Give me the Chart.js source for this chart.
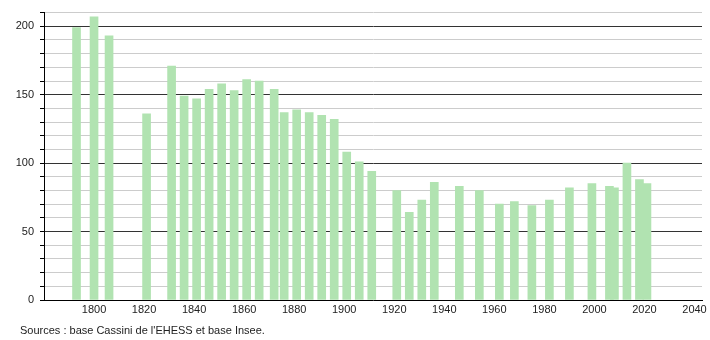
<!DOCTYPE html>
<html>
<head>
<meta charset="utf-8">
<script src="https://cdn.jsdelivr.net/npm/chart.js@4/dist/chart.umd.min.js"></script>
<style>
  body { margin: 0; background: #fff; }
  #wrap { position: relative; width: 710px; height: 340px; }
  #source {
    position: absolute; left: 20px; top: 324px;
    font: 11px "Liberation Sans", Arial, sans-serif; color: #222;
  }
</style>
</head>
<body>
<div id="wrap">
  <canvas id="chart" width="710" height="340"></canvas>
  <div id="source">Sources : base Cassini de l'EHESS et base Insee.</div>
</div>
<script>
// années de recensement et population
const annees = [1793, 1800, 1806, 1821, 1831, 1836, 1841, 1846, 1851, 1856, 1861, 1866, 1872, 1876,
    1881, 1886, 1891, 1896, 1901, 1906, 1911, 1921, 1926, 1931, 1936, 1946, 1954, 1962, 1968, 1975,
    1982, 1990, 1999, 2006, 2008, 2013, 2018, 2021];
const population = [199, 207, 193, 136, 171, 149, 147, 154, 158, 153, 161, 160, 154, 137,
    139, 137, 135, 132, 108, 101, 94, 80, 64, 73, 86, 83, 80, 70, 72, 69,
    73, 82, 85, 83, 82, 100, 88, 85];
const ticksY = [0, 50, 100, 150, 200];
const ticksX = [1800, 1820, 1840, 1860, 1880, 1900, 1920, 1940, 1960, 1980, 2000, 2020, 2040];

const police = { family: '"Liberation Sans", Arial, sans-serif', size: 11 };

new Chart(document.getElementById('chart'), {
    type: 'bar',
    data: {
        datasets: [{
            data: annees.map((a, i) => ({ x: a, y: population[i] })),
            backgroundColor: '#b1e3b1',
            barThickness: 8
        }]
    },
    options: {
        responsive: false,
        animation: false,
        layout: { padding: { top: 10, right: 8, left: 0, bottom: 0 } },
        plugins: { legend: { display: false }, tooltip: { enabled: false } },
        scales: {
            x: {
                type: 'linear',
                offset: false,
                min: 1780,
                max: 2043,
                grid: { display: false, drawTicks: false },
                border: { display: true, color: '#000', width: 1 },
                ticks: {
                    stepSize: 20,
                    includeBounds: false,
                    autoSkip: false,
                    maxRotation: 0,
                    padding: 3,
                    color: '#222',
                    font: police,
                    callback: v => ticksX.includes(v) ? String(v) : ''
                },
                afterFit: s => { s.height = 40; }
            },
            y: {
                min: 0,
                max: 210,
                grid: {
                    color: c => (c.tick && c.tick.value % 50 === 0 && c.tick.value !== 0) ? '#333' : '#ccc',
                    tickColor: '#000',
                    tickLength: 4
                },
                border: { display: true, color: '#000', width: 1 },
                ticks: {
                    stepSize: 10,
                    autoSkip: false,
                    padding: 6,
                    color: '#222',
                    font: police,
                    callback: v => ticksY.includes(v) ? String(v) : ''
                },
                afterFit: s => { s.width = 44; }
            }
        }
    }
});
</script>
</body>
</html>
